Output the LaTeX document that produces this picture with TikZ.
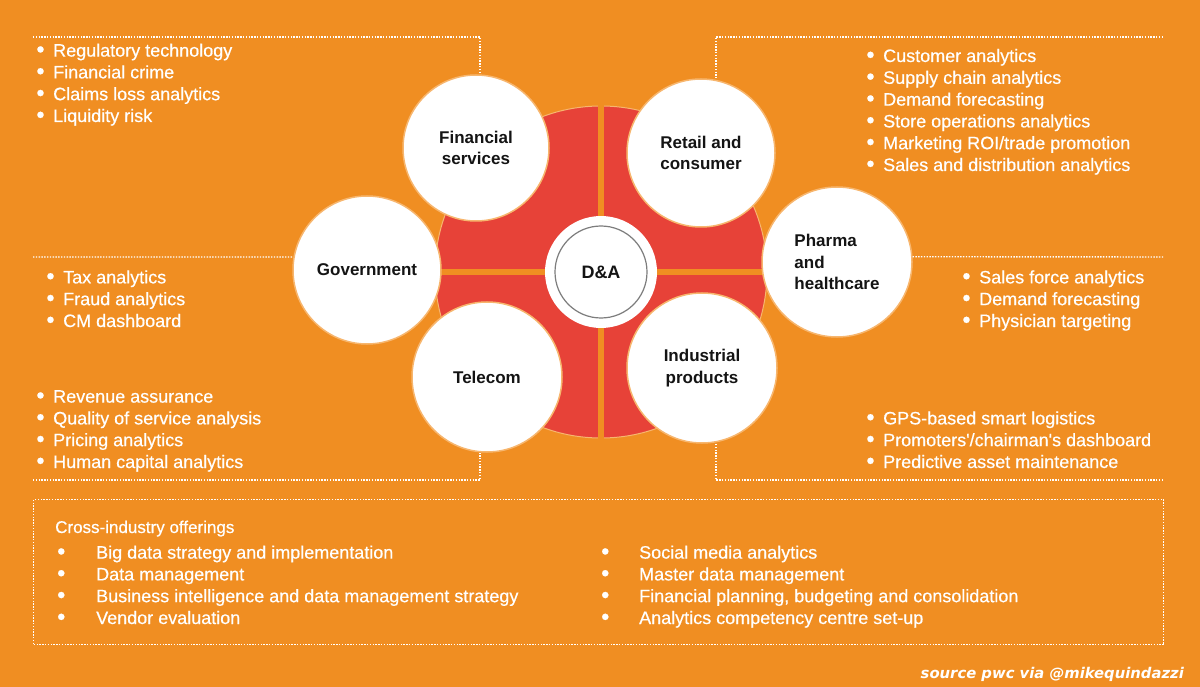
\documentclass[tikz,border=0pt]{standalone}
\usepackage{fontspec}
\setmainfont{Liberation Sans}
\newfontfamily\medfont[FakeBold=0.5]{Liberation Sans}
\newfontfamily\srcfont{DejaVu Sans}
\definecolor{bgorange}{RGB}{240,142,34}
\definecolor{dared}{RGB}{231,66,56}
\definecolor{circborder}{RGB}{247,182,110}
\definecolor{labelblack}{RGB}{20,20,20}
\definecolor{hubgray}{RGB}{125,125,125}
\begin{document}
\begin{tikzpicture}[x=1pt,y=-1pt,
  lst/.style={anchor=base west, align=left, text=white, font=\medfont\fontsize{18}{21.8}\selectfont, inner sep=0pt},
  sat/.style={circle, fill=white, draw=circborder, line width=1.5pt, inner sep=0pt, font=\bfseries\fontsize{17}{21.5}\selectfont, text=labelblack, align=center},
  dots/.style={draw=white, line width=1.4pt, dash pattern=on 1.4pt off 1.4pt},
  divider/.style={draw=bgorange, line width=6pt}
]
\useasboundingbox (0,0) rectangle (1200,687);
\fill[bgorange] (0,0) rectangle (1200,687);

% central red disc with cross
\node[circle, fill=dared, draw=circborder, line width=1pt, minimum size=332pt, inner sep=0pt] (ring) at (601,272) {};
\draw[divider] (ring.north) -- (ring.south);
\draw[divider] (ring.west) -- (ring.east);
\node[circle, fill=white, minimum size=112pt, inner sep=0pt] (hub) at (601,272) {};
\node[circle, draw=hubgray, line width=1.2pt, minimum size=92pt, inner sep=0pt, font=\bfseries\fontsize{18}{22}\selectfont, text=labelblack] (da) at (601,272) {D\&A};

% satellites
\node[sat, minimum size=146pt] (fin) at (476,148) {Financial\\services};
\node[sat, minimum size=148pt] (ret) at (701,153) {Retail and\\consumer};
\node[sat, minimum size=150pt, align=left] (pha) at (837,262) {Pharma\\and\\healthcare};
\node[sat, minimum size=148pt] (gov) at (367,270) {Government};
\node[sat, minimum size=150pt] (tel) at (487,377) {Telecom};
\node[sat, minimum size=150pt] (ind) at (702,368) {Industrial\\products};

% lists (anchor = baseline of last line)
\newcommand{\bdot}{\raisebox{-0.6pt}{\scalebox{1.3}{\textbullet}}}
\newcommand{\bl}{\makebox[16pt][l]{\hspace{-0.8pt}\bdot}}
\node[lst] (finlist) at (37,122) {\bl Regulatory technology\\\bl Financial crime\\\bl Claims loss analytics\\\bl Liquidity risk};
\node[lst] (retlist) at (867,171) {\bl Customer analytics\\\bl Supply chain analytics\\\bl Demand forecasting\\\bl Store operations analytics\\\bl Marketing ROI/trade promotion\\\bl Sales and distribution analytics};
\node[lst] (phalist) at (963,327) {\bl Sales force analytics\\\bl Demand forecasting\\\bl Physician targeting};
\node[lst] (govlist) at (47,327) {\bl Tax analytics\\\bl Fraud analytics\\\bl CM dashboard};
\node[lst] (tellist) at (37,468) {\bl Revenue assurance\\\bl Quality of service analysis\\\bl Pricing analytics\\\bl Human capital analytics};
\node[lst] (indlist) at (867,468) {\bl GPS-based smart logistics\\\bl Promoters'/chairman's dashboard\\\bl Predictive asset maintenance};

% dotted connectors
\coordinate (tlA) at (33,37);
\coordinate (tlB) at (480,37);
\draw[dots] (tlA) -- (tlB) -- (tlB |- fin.north);
\coordinate (trA) at (1163,37);
\coordinate (trB) at (716,37);
\draw[dots] (trA) -- (trB) -- (trB |- ret.north);
\coordinate (gA) at (33,257);
\draw[dots] (gA) -- (gov.170);
\coordinate (pB) at (1163,257);
\draw[dots] (pha.4) -- (pB);
\coordinate (blA) at (33,480);
\coordinate (blB) at (480,480);
\draw[dots] (blA) -- (blB) -- (blB |- tel.south);
\coordinate (brA) at (1163,480);
\coordinate (brB) at (716,480);
\draw[dots] (brA) -- (brB) -- (brB |- ind.south);

% cross-industry box
\node[dots, anchor=north west, minimum width=1130pt, minimum height=145pt, inner sep=0pt] (box) at (33,499) {};
\newcommand{\bll}{\makebox[39pt][l]{\bdot}}
\newcommand{\blr}{\makebox[38pt][l]{\bdot}}
\node[lst, font=\medfont\fontsize{17}{21}\selectfont] (crosstitle) at (55,533) {Cross-industry offerings};
\node[lst] (crossleft) at (57,624) {\bll Big data strategy and implementation\\\bll Data management\\\bll Business intelligence and data management strategy\\\bll Vendor evaluation};
\node[lst] (crossright) at (601,624) {\blr Social media analytics\\\blr Master data management\\\blr Financial planning, budgeting and consolidation\\\blr Analytics competency centre set-up};

\node[anchor=base east, inner sep=0pt, text=white, font=\srcfont\bfseries\itshape\fontsize{14.8}{17}\selectfont] (src) at (1184,678) {source pwc via @mikequindazzi};
\end{tikzpicture}
\end{document}
